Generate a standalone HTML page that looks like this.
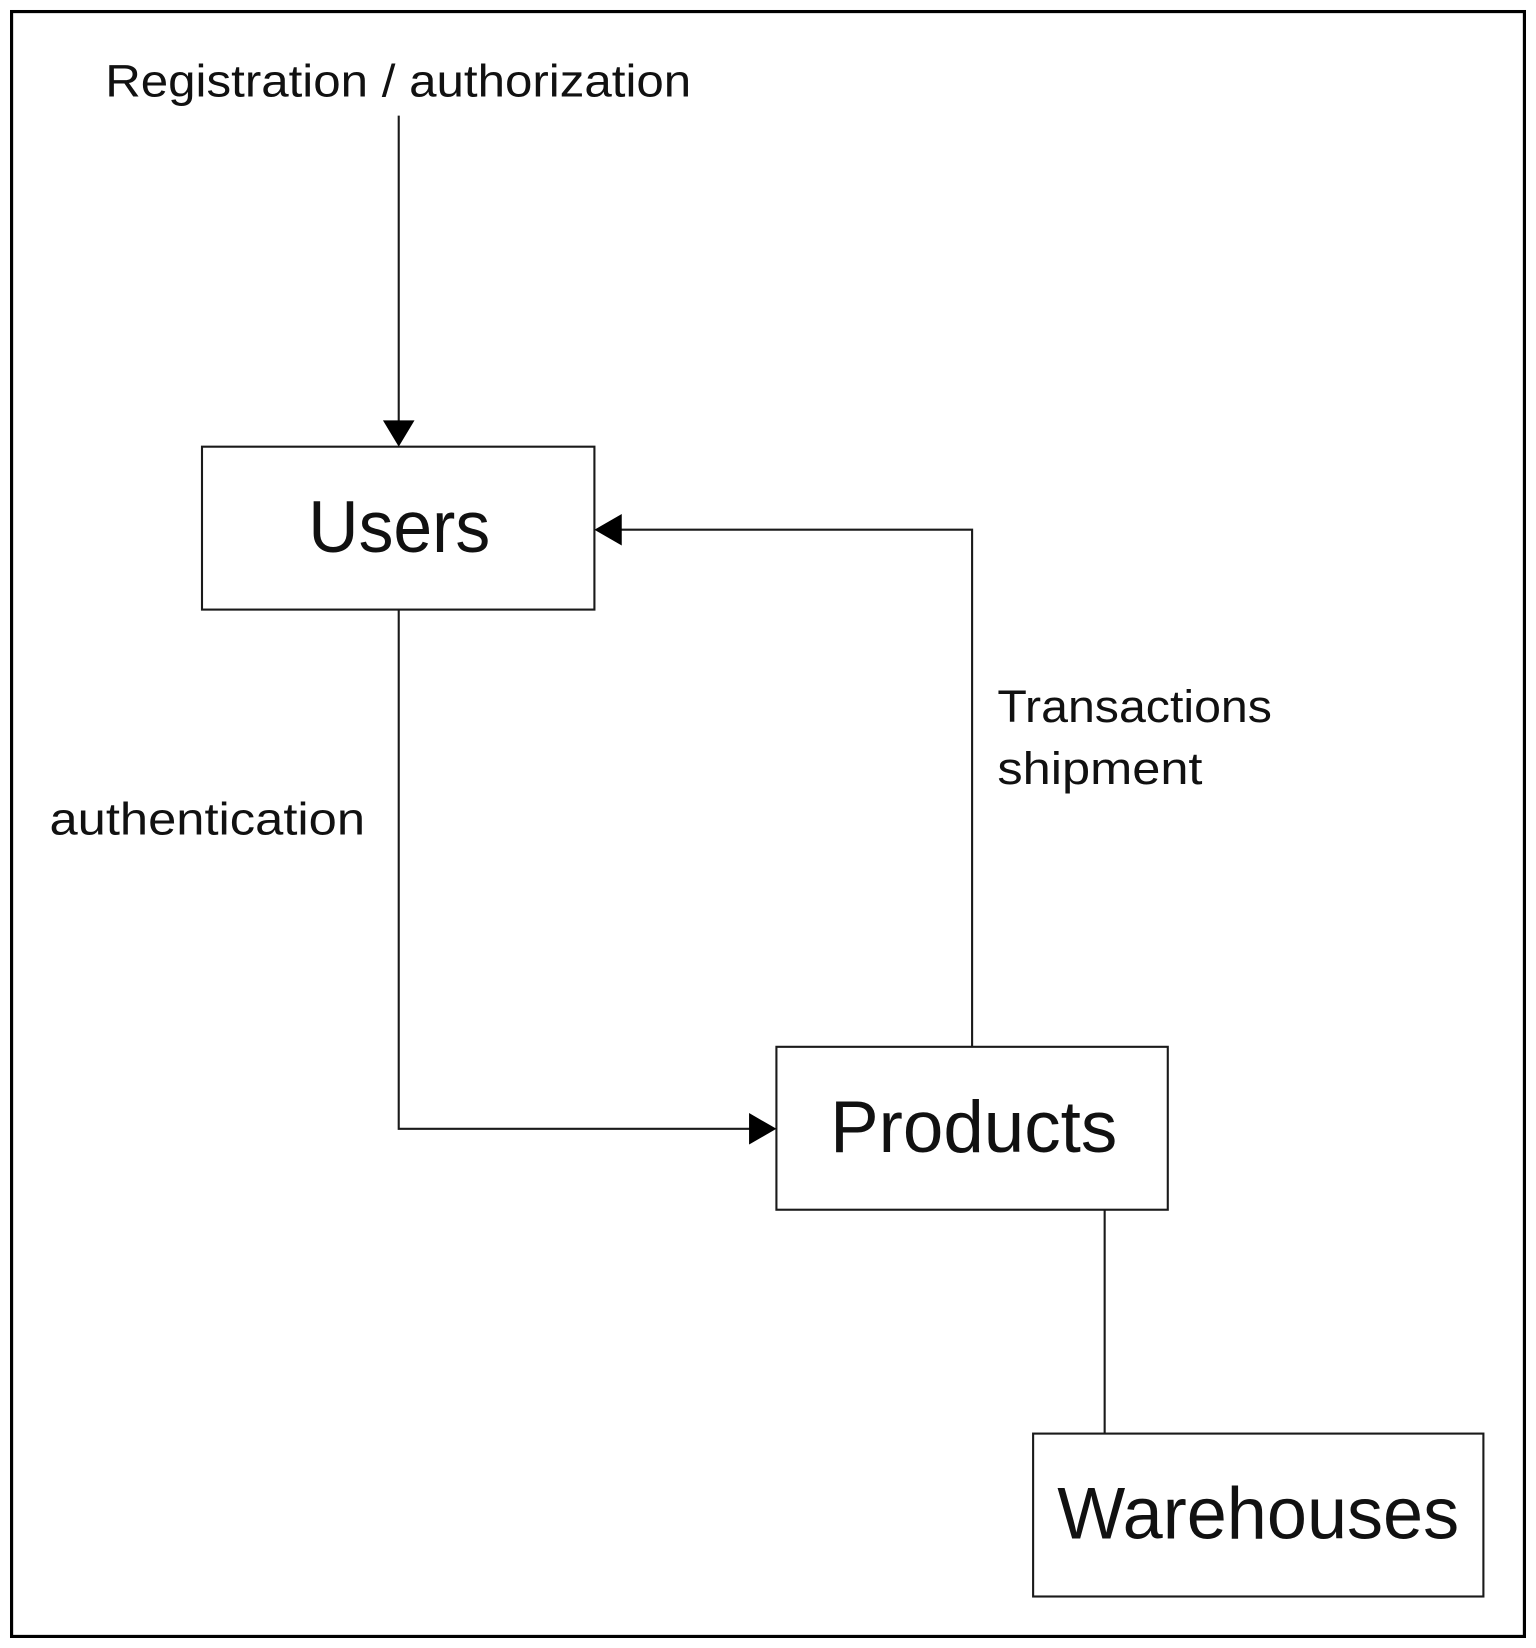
<!DOCTYPE html>
<html><head><meta charset="utf-8"><style>html,body{margin:0;padding:0;background:#fff}svg{display:block}</style></head>
<body>
<svg width="1536" height="1648" viewBox="0 0 1460 1568" preserveAspectRatio="none" xmlns="http://www.w3.org/2000/svg" font-family="Liberation Sans, sans-serif">
<rect x="11" y="11" width="1438" height="1546" fill="#fff" stroke="#000" stroke-width="3"/>
<g fill="none" stroke="#1a1a1a" stroke-width="2">
<rect x="192" y="425" width="373" height="155"/>
<rect x="738" y="996" width="372" height="155"/>
<rect x="982" y="1364" width="428" height="155"/>
<line x1="379" y1="110" x2="379" y2="402"/>
<polyline points="379,580 379,1074 716,1074"/>
<polyline points="924,996 924,504 588,504"/>
<line x1="1050" y1="1151" x2="1050" y2="1364"/>
</g>
<g fill="#000">
<polygon points="364,400 394,400 379,425"/>
<polygon points="712,1059 712,1089 738,1074"/>
<polygon points="591,489 591,519 565,504"/>
</g>
<g fill="#111">
<text x="100" y="92" font-size="43" textLength="557" lengthAdjust="spacingAndGlyphs">Registration / authorization</text>
<text x="293" y="525" font-size="70" textLength="173" lengthAdjust="spacingAndGlyphs">Users</text>
<text x="789" y="1096" font-size="70" textLength="273" lengthAdjust="spacingAndGlyphs">Products</text>
<text x="1005" y="1464" font-size="70" textLength="382" lengthAdjust="spacingAndGlyphs">Warehouses</text>
<text x="948" y="687" font-size="43" textLength="261" lengthAdjust="spacingAndGlyphs">Transactions</text>
<text x="948" y="746" font-size="43" textLength="195" lengthAdjust="spacingAndGlyphs">shipment</text>
<text x="47" y="794" font-size="43" textLength="300" lengthAdjust="spacingAndGlyphs">authentication</text>
</g>
</svg>
</body></html>
